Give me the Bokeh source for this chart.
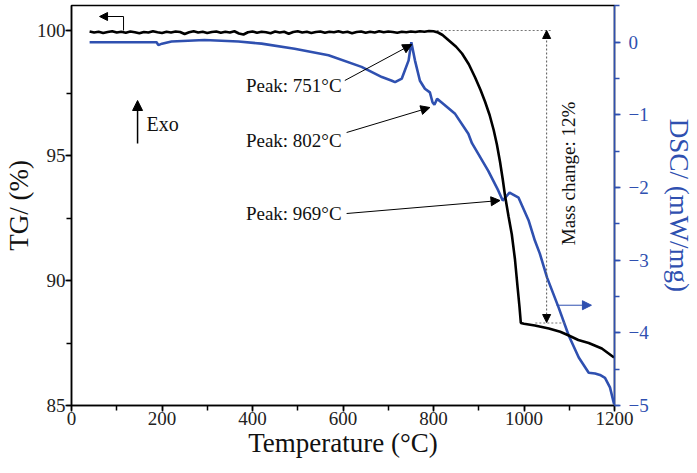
from bokeh.plotting import figure
from bokeh.models import Range1d, LinearAxis, SingleIntervalTicker, Arrow, NormalHead
from bokeh.core.properties import value
from bokeh.embed import file_html
from bokeh.resources import INLINE
import math

# ---------------- data ----------------
tg_temp = [40, 50, 60, 70, 80, 90, 100, 110, 120, 130, 140, 150, 160, 170, 180, 190,
           200, 210, 220, 230, 240, 250, 260, 270, 280, 290, 300, 310, 320, 330, 340,
           350, 360, 370, 380, 390, 400, 410, 420, 430, 440, 450, 460, 470, 480, 490,
           500, 510, 520, 530, 540, 550, 560, 570, 580, 590, 600, 610, 620, 630, 640,
           650, 660, 670, 680, 690, 700, 710, 720, 730, 740, 750, 760, 770, 780, 790,
           800, 810, 820, 834, 850, 863, 878, 892, 904, 914, 924, 933, 940, 947, 953,
           958, 966, 973, 980, 986, 990, 993, 1000, 1024, 1055, 1080, 1099, 1120, 1143,
           1172, 1199]
tg = [99.96, 99.92, 99.95, 99.90, 99.94, 99.97, 99.92, 99.95, 99.91, 99.96, 99.93,
      99.89, 99.94, 99.92, 99.97, 99.93, 99.90, 99.95, 99.92, 99.96, 99.94, 99.86,
      99.93, 99.97, 99.92, 99.95, 99.90, 99.94, 99.96, 99.91, 99.95, 99.92, 99.97,
      99.88, 99.84, 99.93, 99.96, 99.91, 99.95, 99.93, 99.89, 99.96, 99.92, 99.95,
      99.87, 99.94, 99.97, 99.92, 99.95, 99.90, 99.94, 99.96, 99.91, 99.95, 99.93,
      99.97, 99.92, 99.95, 99.89, 99.94, 99.96, 99.91, 99.95, 99.92, 99.97, 99.93,
      99.96, 99.94, 99.91, 99.95, 99.93, 99.96, 99.94, 99.97, 99.95, 99.98, 99.97,
      99.92, 99.82, 99.60, 99.35, 99.08, 98.65, 98.12, 97.62, 97.15, 96.62, 96.02,
      95.45, 94.75, 94.05, 93.40, 92.55, 91.85, 90.85, 89.70, 88.95, 88.30, 88.27,
      88.20, 88.08, 87.95, 87.80, 87.62, 87.50, 87.28, 86.92]

dsc_temp = [40, 188, 192, 200, 221, 294, 369, 420, 493, 568, 641, 686, 708, 715, 730,
            745, 751, 759, 770, 781, 792, 798, 802, 808, 818, 847, 877, 885, 921, 943,
            953, 968, 988, 1010, 1024, 1035, 1051, 1077, 1099, 1121, 1143, 1157, 1168,
            1179, 1190, 1199]
dsc = [0.00, 0.00, -0.04, -0.02, 0.01, 0.03, 0.01, -0.02, -0.09, -0.18, -0.34, -0.48,
       -0.53, -0.55, -0.50, -0.25, 0.00, -0.25, -0.53, -0.64, -0.69, -0.83, -0.86,
       -0.78, -0.83, -0.98, -1.26, -1.39, -1.77, -2.04, -2.18, -2.07, -2.14, -2.45,
       -2.73, -2.91, -3.24, -3.66, -4.04, -4.34, -4.55, -4.56, -4.58, -4.62, -4.75,
       -4.98]

x_ticks_interval = 200
tg_ticks_interval = 5
dsc_ticks_interval = 1

peak_labels = ["Peak: 751°C", "Peak: 802°C", "Peak: 969°C"]
peak_label_x = [597, 597, 597]
peak_label_y = [97.8, 95.6, 92.68]
peak_arrow_x0 = [604, 608, 608]
peak_arrow_y0 = [98.0, 95.92, 92.68]
peak_arrow_x1 = [752, 792, 947]
peak_arrow_y1 = [99.44, 96.92, 93.2]

exo_arrow = (146, 95.48, 146, 97.2)
exo_label = (166, 96.28, "Exo")

mass_top = (807, 1061, 100.0)
mass_vert = (1050, 100.0, 88.32)
mass_bottom = (1025, 1090, 88.3)
mass_label = (1098, 94.28, "Mass change: 12%")

tg_marker = (115, 100.0, 100.56, 62)
dsc_marker = (1072, 1149, -3.62)

BLUE = "#2f50b0"
FONT = "Liberation Serif"

# ---------------- figure ----------------
p = figure(frame_width=543, frame_height=400, output_backend="svg", toolbar_location=None,
           x_range=Range1d(0, 1200), y_range=Range1d(85, 101),
           min_border_left=70, min_border_right=80, min_border_top=5, min_border_bottom=60,
           background_fill_color="white", border_fill_color="white")
p.extra_y_ranges = {"dsc": Range1d(-5, 0.505)}
p.grid.visible = False
p.outline_line_color = "black"
p.outline_line_width = 1.5

p.xaxis.ticker = SingleIntervalTicker(interval=x_ticks_interval, num_minor_ticks=2)
p.yaxis.ticker = SingleIntervalTicker(interval=tg_ticks_interval, num_minor_ticks=2)
p.xaxis.axis_label = "Temperature (°C)"
p.yaxis.axis_label = "TG/ (%)"

dsc_axis = LinearAxis(y_range_name="dsc", axis_label="DSC/ (mW/mg)",
                      ticker=SingleIntervalTicker(interval=dsc_ticks_interval, num_minor_ticks=2))
p.add_layout(dsc_axis, "right")

for ax, col in [(p.xaxis[0], "black"), (p.yaxis[0], "black"), (dsc_axis, BLUE)]:
    ax.axis_line_color = col
    ax.axis_line_width = 1.5
    ax.major_tick_line_color = col
    ax.minor_tick_line_color = col
    ax.major_tick_line_width = 1.5
    ax.minor_tick_line_width = 1.5
    ax.major_tick_in = 0
    ax.major_tick_out = 6
    ax.minor_tick_in = 0
    ax.minor_tick_out = 5
    ax.major_label_text_font = FONT
    ax.major_label_text_font_size = "19px"
    ax.major_label_text_color = col if col != "black" else "#222222"
    ax.major_label_standoff = 0
    ax.axis_label_text_font = FONT
    ax.axis_label_text_font_style = "normal"
    ax.axis_label_text_font_size = "27px"
    ax.axis_label_text_color = col if col != "black" else "#111111"
    ax.axis_label_standoff = 0

dsc_axis.major_label_standoff = 8
dsc_axis.axis_label_standoff = 12

# curves
p.line(dsc_temp, dsc, line_color=BLUE, line_width=2.6, y_range_name="dsc")
p.line(tg_temp, tg, line_color="black", line_width=2.6)

# peak annotations
p.text(peak_label_x, peak_label_y, text=peak_labels, text_font=value(FONT),
       text_font_size="19px", text_align="right", text_baseline="middle", text_color="#111111")
for x0, y0, x1, y1 in zip(peak_arrow_x0, peak_arrow_y0, peak_arrow_x1, peak_arrow_y1):
    p.add_layout(Arrow(end=NormalHead(size=9, fill_color="black", line_color="black", line_width=1),
                       x_start=x0, y_start=y0, x_end=x1, y_end=y1,
                       line_color="black", line_width=1))

# Exo
p.add_layout(Arrow(end=NormalHead(size=10, fill_color="black", line_color="black", line_width=1),
                   x_start=exo_arrow[0], y_start=exo_arrow[1], x_end=exo_arrow[2], y_end=exo_arrow[3],
                   line_color="black", line_width=1.5))
p.text([exo_label[0]], [exo_label[1]], text=[exo_label[2]], text_font=value(FONT),
       text_font_size="20px", text_align="left", text_baseline="middle", text_color="#111111")

# mass change
p.line([mass_top[0], mass_top[1]], [mass_top[2], mass_top[2]], line_color="#777777",
       line_width=1, line_dash="2 2")
p.line([mass_bottom[0], mass_bottom[1]], [mass_bottom[2], mass_bottom[2]], line_color="#777777",
       line_width=1, line_dash="2 2")
p.add_layout(Arrow(start=NormalHead(size=8, fill_color="black", line_color="black", line_width=1),
                   end=NormalHead(size=8, fill_color="black", line_color="black", line_width=1),
                   x_start=mass_vert[0], y_start=mass_vert[2], x_end=mass_vert[0], y_end=mass_vert[1],
                   line_color="#555555", line_width=1, line_dash="2 2"))
p.text([mass_label[0]], [mass_label[1]], text=[mass_label[2]], text_font=value(FONT),
       text_font_size="19px", text_align="center", text_baseline="middle", angle=math.pi / 2,
       text_color="#111111")

# series indicators
p.line([tg_marker[0], tg_marker[0]], [tg_marker[1], tg_marker[2]], line_color="black", line_width=1)
p.add_layout(Arrow(end=NormalHead(size=8, fill_color="black", line_color="black", line_width=1),
                   x_start=tg_marker[0], y_start=tg_marker[2], x_end=tg_marker[3], y_end=tg_marker[2],
                   line_color="black", line_width=1))
p.add_layout(Arrow(end=NormalHead(size=9, fill_color=BLUE, line_color=BLUE, line_width=1),
                   x_start=dsc_marker[0], y_start=dsc_marker[2], x_end=dsc_marker[1], y_end=dsc_marker[2],
                   line_color=BLUE, line_width=1, y_range_name="dsc"))

open("out.html", "w").write(file_html(p, INLINE))
